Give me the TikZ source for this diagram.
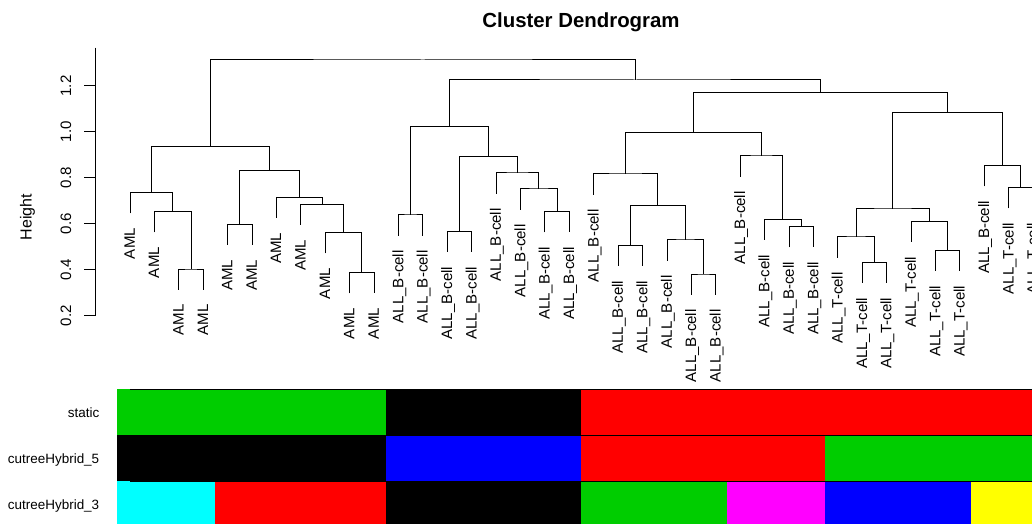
\documentclass[tikz,border=0pt]{standalone}
\usepackage{fontspec}
\setmainfont{Liberation Sans}
\usetikzlibrary{calc}
\definecolor{rgreen}{HTML}{00CD00}
\definecolor{rred}{HTML}{FF0000}
\definecolor{rblue}{HTML}{0000FF}
\definecolor{rcyan}{HTML}{00FFFF}
\definecolor{rmagenta}{HTML}{FF00FF}
\definecolor{ryellow}{HTML}{FFFF00}

% leaf: index, label, lower end of its branch (y in px)
\newcommand\lf[3]{%
  \coordinate (l#1) at ({130+24.41*#1},#3);
  \node[leaflab] (t#1) at ($(l#1)+(0,14.5)$) {#2};}
% merge: name, first child, second child, merge height (y in px)
\newcommand\mrg[4]{%
  \path ($(#2)!0.5!(#3)$) coordinate (#1-mid);
  \coordinate (#1) at (#1-mid |- 0,#4);
  \draw[tree] (#2) |- (#1) -| (#3);}
% colour segment: first column, last column (exclusive), row top, colour
\newcommand\seg[4]{%
  \fill[#4] ({117+24.41*#1},#3) rectangle ({117+24.41*#2},{#3+46});}

\begin{document}
\begin{tikzpicture}[x=0.75pt,y=-0.75pt,
  tree/.style={line width=0.75pt},
  leaflab/.style={rotate=90,anchor=east,inner sep=0pt,text height=0.716em,text depth=0pt,
    font=\fontsize{11.3}{13}\selectfont},
  ticklab/.style={rotate=90,anchor=base,inner sep=0pt,font=\fontsize{11.3}{13}\selectfont},
  rowlab/.style={anchor=base east,inner sep=0pt,font=\fontsize{10.1}{12}\selectfont}]
\useasboundingbox (0,0) rectangle (1032,524);
\clip (0,0) rectangle (1032,524);
\fill[white] (0,0) rectangle (1032,524);

% title
\node[anchor=base,inner sep=0pt,font=\bfseries\fontsize{15.3}{18}\selectfont] (title) at (581,27.3) {Cluster Dendrogram};

% height axis
\coordinate (axtop) at (95,47.7);
\coordinate (axbot) at (95,315.7);
\draw[line width=0.75pt] (axtop) -- (axbot);
\foreach \v [count=\i from 0] in {0.2,0.4,0.6,0.8,1.0,1.2} {
  \coordinate (tk\i) at (95,{315.7-45.95*\i});
  \draw[line width=0.75pt] (tk\i) -- ++(-10.7,0);
  \node[ticklab] (tl\i) at ($(tk\i)+(-24,0)$) {\v};
}
\node[rotate=90,anchor=base,inner sep=0pt,font=\fontsize{12}{14}\selectfont] (ylab) at (31.5,217) {Height};

% leaves
\lf{0}{AML}{213.3}
\lf{1}{AML}{232.3}
\lf{2}{AML}{289.6}
\lf{3}{AML}{289.6}
\lf{4}{AML}{244.9}
\lf{5}{AML}{244.9}
\lf{6}{AML}{217.9}
\lf{7}{AML}{224.9}
\lf{8}{AML}{253.3}
\lf{9}{AML}{293.3}
\lf{10}{AML}{293.3}
\lf{11}{ALL\_B-cell}{235.6}
\lf{12}{ALL\_B-cell}{235.6}
\lf{13}{ALL\_B-cell}{251.9}
\lf{14}{ALL\_B-cell}{251.9}
\lf{15}{ALL\_B-cell}{193.6}
\lf{16}{ALL\_B-cell}{209.6}
\lf{17}{ALL\_B-cell}{232.3}
\lf{18}{ALL\_B-cell}{232.3}
\lf{19}{ALL\_B-cell}{194.6}
\lf{20}{ALL\_B-cell}{265.9}
\lf{21}{ALL\_B-cell}{265.9}
\lf{22}{ALL\_B-cell}{260.6}
\lf{23}{ALL\_B-cell}{294.6}
\lf{24}{ALL\_B-cell}{294.6}
\lf{25}{ALL\_B-cell}{176.6}
\lf{26}{ALL\_B-cell}{239.9}
\lf{27}{ALL\_B-cell}{247.3}
\lf{28}{ALL\_B-cell}{247.3}
\lf{29}{ALL\_T-cell}{257.6}
\lf{30}{ALL\_T-cell}{282.9}
\lf{31}{ALL\_T-cell}{282.9}
\lf{32}{ALL\_T-cell}{241.9}
\lf{33}{ALL\_T-cell}{270.9}
\lf{34}{ALL\_T-cell}{270.9}
\lf{35}{ALL\_B-cell}{186.3}
\lf{36}{ALL\_T-cell}{208.3}
\lf{37}{ALL\_T-cell}{208.3}

% AML branch
\mrg{a1}{l2}{l3}{269}
\mrg{a2}{l1}{a1}{211.7}
\mrg{a3}{l0}{a2}{192.7}
\mrg{a4}{l4}{l5}{224.3}
\mrg{a5}{l9}{l10}{272.7}
\mrg{a6}{l8}{a5}{232.7}
\mrg{a7}{l7}{a6}{204.3}
\mrg{a8}{l6}{a7}{197.3}
\mrg{a9}{a4}{a8}{170.7}
\mrg{a10}{a3}{a9}{146.7}
% first B-cell branch
\mrg{b1}{l11}{l12}{215}
\mrg{b2}{l13}{l14}{231.3}
\mrg{b3}{l17}{l18}{211.7}
\mrg{b4}{l16}{b3}{189}
\mrg{b5}{l15}{b4}{173}
\mrg{b6}{b2}{b5}{156.3}
\mrg{b7}{b1}{b6}{126.7}
% second B-cell branch
\mrg{c1}{l20}{l21}{245.3}
\mrg{c2}{l23}{l24}{274}
\mrg{c3}{l22}{c2}{240}
\mrg{c4}{c1}{c3}{205.7}
\mrg{c5}{l19}{c4}{174}
\mrg{c6}{l27}{l28}{226.7}
\mrg{c7}{l26}{c6}{219.3}
\mrg{c8}{l25}{c7}{156}
\mrg{c9}{c5}{c8}{132.3}
% T-cell branch
\mrg{d1}{l30}{l31}{262.3}
\mrg{d2}{l29}{d1}{237}
\mrg{d3}{l33}{l34}{250.3}
\mrg{d4}{l32}{d3}{221.3}
\mrg{d5}{d2}{d4}{209}
\mrg{d6}{l36}{l37}{187.7}
\mrg{d7}{l35}{d6}{165.7}
\mrg{d8}{d5}{d7}{112.3}
% upper joins
\mrg{r1}{c9}{d8}{92.3}
\mrg{r2}{b7}{r1}{80}
\mrg{root}{a10}{r2}{60}

% colour rows
\seg{0}{11}{389}{rgreen}
\seg{11}{19}{389}{black}
\seg{19}{38}{389}{rred}
\seg{0}{11}{435}{black}
\seg{11}{19}{435}{rblue}
\seg{19}{29}{435}{rred}
\seg{29}{38}{435}{rgreen}
\seg{0}{4}{481}{rcyan}
\seg{4}{11}{481}{rred}
\seg{11}{19}{481}{black}
\seg{19}{25}{481}{rgreen}
\seg{25}{29}{481}{rmagenta}
\seg{29}{35}{481}{rblue}
\seg{35}{38}{481}{ryellow}
\foreach \yy in {389,435,481}
  \draw[line width=0.75pt] (130,\yy) -- (1046,\yy);

\node[rowlab] (row1) at (99.5,417) {static};
\node[rowlab] (row2) at (99.5,463) {cutreeHybrid\_5};
\node[rowlab] (row3) at (99.5,509) {cutreeHybrid\_3};
\end{tikzpicture}
\end{document}
